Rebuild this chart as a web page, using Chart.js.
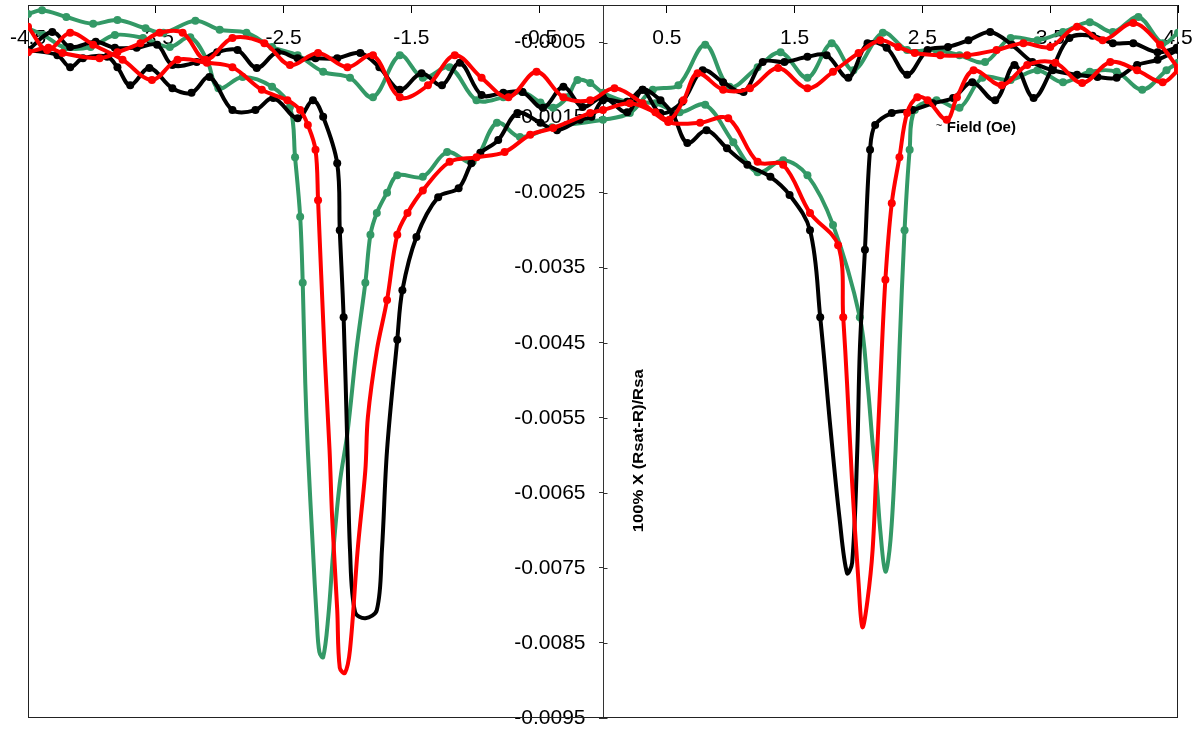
<!DOCTYPE html>
<html>
<head>
<meta charset="utf-8">
<script src="https://cdn.jsdelivr.net/npm/chart.js@4.4.1/dist/chart.umd.min.js"></script>
<style>
  html, body { margin: 0; padding: 0; background: #fff; }
  #wrap { width: 1197px; height: 732px; }
</style>
</head>
<body>
<div id="wrap"><canvas id="chart" width="1197" height="732"></canvas></div>
<script>
const xTicks = [-4.5, -3.5, -2.5, -1.5, -0.5, 0.5, 1.5, 2.5, 3.5, 4.5];
const yTicks = [-0.0005, -0.0015, -0.0025, -0.0035, -0.0045, -0.0055, -0.0065, -0.0075, -0.0085, -0.0095];
const xTitle = 'Field (Oe)';
const yTitle = '100% X (Rsat-R)/Rsa';

// sweep with the dip on the positive side (field going up)
const greenUp = [
  [-4.50,-0.00012],[-4.39,-0.00007],[-4.20,-0.00016],[-3.99,-0.00025],[-3.80,-0.00020],[-3.58,-0.00031],
  [-3.44,-0.00037],[-3.19,-0.00021],[-3.00,-0.00033],[-2.79,-0.00037],[-2.59,-0.00056],[-2.39,-0.00067],
  [-2.19,-0.00089],[-1.98,-0.00097],[-1.80,-0.00123],[-1.59,-0.00067],[-1.41,-0.00097],[-1.20,-0.00083],
  [-0.99,-0.00127],[-0.78,-0.00123],[-0.63,-0.00116],[-0.49,-0.00130],[-0.39,-0.00137],[-0.28,-0.00123],
  [-0.20,-0.00100],[-0.10,-0.00104],[0.00,-0.00117],[0.19,-0.00129],[0.41,-0.00131],[0.60,-0.00143],
  [0.80,-0.00133],[1.02,-0.00183],[1.21,-0.00223],[1.41,-0.00207],[1.60,-0.00227],[1.80,-0.00293],
  [2.01,-0.00416],[2.07,-0.00504],[2.11,-0.00584],[2.14,-0.00633],[2.17,-0.00700],[2.21,-0.00755],
  [2.25,-0.00713],[2.29,-0.00593],[2.32,-0.00460],[2.36,-0.00300],[2.40,-0.00193],[2.44,-0.00140],
  [2.61,-0.00127],[2.79,-0.00137],[2.97,-0.00097],[3.19,-0.00100],[3.40,-0.00087],[3.60,-0.00103],
  [3.81,-0.00089],[4.02,-0.00089],[4.22,-0.00113],[4.41,-0.00087],[4.50,-0.00077]
];
const redUp = [
  [-4.50,-0.00063],[-4.34,-0.00057],[-4.23,-0.00064],[-3.94,-0.00071],[-3.80,-0.00063],[-3.62,-0.00051],
  [-3.47,-0.00037],[-3.29,-0.00037],[-3.11,-0.00073],[-2.90,-0.00044],[-2.65,-0.00051],[-2.45,-0.00080],
  [-2.23,-0.00064],[-2.00,-0.00083],[-1.80,-0.00067],[-1.59,-0.00123],[-1.37,-0.00107],[-1.16,-0.00067],
  [-0.95,-0.00097],[-0.74,-0.00123],[-0.52,-0.00089],[-0.31,-0.00123],[-0.10,-0.00127],[0.09,-0.00111],
  [0.31,-0.00131],[0.51,-0.00156],[0.76,-0.00157],[0.98,-0.00151],[1.21,-0.00209],[1.41,-0.00213],
  [1.62,-0.00277],[1.84,-0.00320],[1.88,-0.00416],[1.91,-0.00504],[1.95,-0.00637],[2.00,-0.00770],
  [2.03,-0.00829],[2.07,-0.00793],[2.11,-0.00726],[2.14,-0.00616],[2.17,-0.00504],[2.21,-0.00366],
  [2.26,-0.00264],[2.32,-0.00203],[2.38,-0.00144],[2.46,-0.00123],[2.54,-0.00127],[2.69,-0.00153],
  [2.77,-0.00123],[2.90,-0.00087],[3.12,-0.00107],[3.32,-0.00080],[3.54,-0.00077],[3.75,-0.00104],
  [3.97,-0.00076],[4.18,-0.00087],[4.38,-0.00103],[4.50,-0.00087]
];
const blackUp = [
  [-4.50,-0.00060],[-4.31,-0.00036],[-4.17,-0.00056],[-3.97,-0.00049],[-3.82,-0.00057],[-3.65,-0.00057],
  [-3.49,-0.00053],[-3.37,-0.00080],[-3.18,-0.00076],[-3.02,-0.00063],[-2.86,-0.00060],[-2.71,-0.00084],
  [-2.55,-0.00063],[-2.39,-0.00071],[-2.25,-0.00071],[-2.08,-0.00071],[-1.90,-0.00064],[-1.75,-0.00083],
  [-1.59,-0.00113],[-1.42,-0.00091],[-1.26,-0.00107],[-1.12,-0.00077],[-0.95,-0.00120],[-0.78,-0.00117],
  [-0.63,-0.00116],[-0.47,-0.00137],[-0.31,-0.00109],[-0.16,-0.00136],[0.00,-0.00123],[0.19,-0.00143],
  [0.31,-0.00113],[0.45,-0.00127],[0.55,-0.00147],[0.66,-0.00184],[0.81,-0.00167],[0.97,-0.00191],
  [1.13,-0.00213],[1.31,-0.00229],[1.46,-0.00253],[1.62,-0.00300],[1.70,-0.00416],[1.78,-0.00564],
  [1.85,-0.00682],[1.91,-0.00757],[1.95,-0.00743],[1.99,-0.00593],[2.01,-0.00460],[2.05,-0.00326],
  [2.09,-0.00193],[2.13,-0.00160],[2.26,-0.00144],[2.42,-0.00140],[2.58,-0.00131],[2.74,-0.00124],
  [2.89,-0.00103],[3.07,-0.00127],[3.22,-0.00080],[3.37,-0.00124],[3.52,-0.00083],[3.65,-0.00044],
  [3.83,-0.00041],[3.99,-0.00051],[4.15,-0.00051],[4.34,-0.00063],[4.49,-0.00057]
];

// sweep with the dip on the negative side (field going down)
const greenDown = [
  [-4.50,-0.00031],[-4.38,-0.00040],[-4.21,-0.00057],[-4.01,-0.00056],[-3.82,-0.00040],[-3.60,-0.00044],
  [-3.39,-0.00056],[-3.23,-0.00043],[-3.10,-0.00073],[-3.01,-0.00111],[-2.82,-0.00096],[-2.59,-0.00109],
  [-2.45,-0.00136],[-2.41,-0.00203],[-2.37,-0.00282],[-2.35,-0.00370],[-2.33,-0.00504],[-2.31,-0.00593],
  [-2.27,-0.00726],[-2.24,-0.00819],[-2.22,-0.00862],[-2.19,-0.00869],[-2.15,-0.00815],[-2.11,-0.00726],
  [-2.06,-0.00637],[-2.00,-0.00570],[-1.93,-0.00460],[-1.86,-0.00370],[-1.82,-0.00306],[-1.77,-0.00277],
  [-1.69,-0.00250],[-1.61,-0.00227],[-1.41,-0.00229],[-1.22,-0.00196],[-1.02,-0.00209],[-0.83,-0.00157],
  [-0.65,-0.00176],[-0.40,-0.00163],[0.00,-0.00153],[0.21,-0.00144],[0.39,-0.00113],[0.59,-0.00107],
  [0.80,-0.00053],[0.99,-0.00109],[1.21,-0.00083],[1.39,-0.00063],[1.60,-0.00097],[1.79,-0.00051],
  [1.96,-0.00087],[2.19,-0.00037],[2.38,-0.00060],[2.61,-0.00060],[2.79,-0.00067],[2.99,-0.00076],
  [3.19,-0.00044],[3.40,-0.00047],[3.60,-0.00036],[3.81,-0.00023],[3.99,-0.00036],[4.19,-0.00016],
  [4.38,-0.00051],[4.50,-0.00037]
];
const redDown = [
  [-4.50,-0.00029],[-4.35,-0.00060],[-4.17,-0.00037],[-3.99,-0.00053],[-3.76,-0.00073],[-3.53,-0.00100],
  [-3.33,-0.00073],[-3.10,-0.00077],[-2.90,-0.00083],[-2.67,-0.00113],[-2.47,-0.00127],[-2.37,-0.00140],
  [-2.31,-0.00160],[-2.25,-0.00193],[-2.23,-0.00260],[-2.18,-0.00460],[-2.14,-0.00593],[-2.12,-0.00682],
  [-2.08,-0.00806],[-2.06,-0.00883],[-2.02,-0.00890],[-1.98,-0.00859],[-1.92,-0.00726],[-1.86,-0.00620],
  [-1.84,-0.00549],[-1.77,-0.00460],[-1.69,-0.00393],[-1.61,-0.00306],[-1.53,-0.00277],[-1.41,-0.00247],
  [-1.20,-0.00209],[-0.99,-0.00203],[-0.77,-0.00196],[-0.57,-0.00173],[-0.39,-0.00164],[-0.10,-0.00144],
  [0.00,-0.00140],[0.21,-0.00131],[0.41,-0.00143],[0.52,-0.00153],[0.63,-0.00127],[0.74,-0.00091],
  [0.94,-0.00113],[1.15,-0.00111],[1.37,-0.00084],[1.60,-0.00111],[1.80,-0.00089],[2.00,-0.00064],
  [2.17,-0.00047],[2.31,-0.00056],[2.44,-0.00064],[2.64,-0.00067],[2.85,-0.00067],[3.08,-0.00060],
  [3.29,-0.00051],[3.50,-0.00056],[3.71,-0.00029],[3.91,-0.00047],[4.15,-0.00024],[4.36,-0.00053],
  [4.50,-0.00084]
];
const blackDown = [
  [-4.50,-0.00060],[-4.27,-0.00067],[-4.17,-0.00083],[-4.07,-0.00071],[-3.88,-0.00069],[-3.80,-0.00083],
  [-3.70,-0.00107],[-3.55,-0.00084],[-3.37,-0.00111],[-3.22,-0.00117],[-3.08,-0.00096],[-2.90,-0.00140],
  [-2.72,-0.00140],[-2.58,-0.00124],[-2.39,-0.00151],[-2.27,-0.00127],[-2.19,-0.00149],[-2.08,-0.00211],
  [-2.06,-0.00300],[-2.03,-0.00416],[-2.00,-0.00593],[-1.98,-0.00726],[-1.94,-0.00809],[-1.86,-0.00817],
  [-1.77,-0.00806],[-1.73,-0.00726],[-1.69,-0.00593],[-1.61,-0.00446],[-1.57,-0.00380],[-1.46,-0.00309],
  [-1.29,-0.00256],[-1.13,-0.00244],[-1.03,-0.00211],[-0.96,-0.00197],[-0.82,-0.00180],[-0.67,-0.00144],
  [-0.49,-0.00157],[-0.36,-0.00167],[-0.18,-0.00153],[-0.09,-0.00149],[0.00,-0.00127],[0.19,-0.00129],
  [0.31,-0.00113],[0.45,-0.00144],[0.62,-0.00129],[0.78,-0.00087],[0.94,-0.00103],[1.10,-0.00116],
  [1.25,-0.00076],[1.42,-0.00076],[1.60,-0.00069],[1.75,-0.00067],[1.92,-0.00097],[2.07,-0.00051],
  [2.22,-0.00057],[2.38,-0.00093],[2.54,-0.00060],[2.70,-0.00056],[2.86,-0.00047],[3.03,-0.00036],
  [3.20,-0.00053],[3.36,-0.00076],[3.52,-0.00087],[3.71,-0.00093],[3.87,-0.00096],[4.02,-0.00097],
  [4.18,-0.00080],[4.34,-0.00073],[4.50,-0.00060]
];

const GREEN = '#339966';
const RED = '#ff0000';
const BLACK = '#000000';
const FONT = "'Liberation Sans', Arial, Helvetica, sans-serif";

let toPoints = function(rows) {
    return rows.map(r => ({x: r[0], y: r[1]}));
};

let series = function(rows, color) {
    return {
        data: toPoints(rows),
        showLine: true,
        borderColor: color,
        backgroundColor: color,
        borderWidth: 4,
        tension: 0.35,
        pointBorderWidth: 0,
        // markers sit on the measured points, not down in the steep part of the dips
        pointRadius: (c) => (c.raw && c.raw.y < -0.0045 ? 0 : 4),
    };
};

// axes sit inside the plot, so they must not take any room in the layout
let noRoom = function(s) {
    if (s.isHorizontal()) {
        s.height = 0;
    } else {
        s.width = 0;
    }
    s.paddingLeft = s.paddingRight = s.paddingTop = s.paddingBottom = 0;
};

// box round the plot, the ticks on the right of the y axis, and the two axis titles
const decorPlugin = {
    id: 'decor',
    beforeDatasetsDraw(chart) {
        const {ctx, chartArea: a, scales} = chart;
        ctx.save();
        ctx.lineWidth = 1;
        ctx.strokeStyle = '#222';
        ctx.strokeRect(a.left + 0.5, a.top + 0.5, a.width - 1, a.height - 1);

        const x0 = Math.round(scales.x.getPixelForValue(0)) + 0.5;
        ctx.strokeStyle = '#333';
        ctx.beginPath();
        yTicks.forEach(v => {
            const y = Math.round(scales.y.getPixelForValue(v)) + 0.5;
            ctx.moveTo(x0, y);
            ctx.lineTo(x0 + 4, y);
        });
        ctx.stroke();

        ctx.fillStyle = '#000';
        // y title, rotated and stretched the way the original renders it
        ctx.save();
        ctx.translate(scales.x.getPixelForValue(0.28), scales.y.getPixelForValue(-0.00594));
        ctx.rotate(-Math.PI / 2);
        ctx.font = 'bold 14px ' + FONT;
        const w = ctx.measureText(yTitle).width;
        ctx.scale(163 / w, 1);
        ctx.textAlign = 'center';
        ctx.textBaseline = 'middle';
        ctx.fillText(yTitle, 0, 0);
        ctx.restore();

        // x title
        const fx = scales.x.getPixelForValue(2.69);
        const fy = scales.y.getPixelForValue(-0.00164);
        ctx.textBaseline = 'middle';
        ctx.textAlign = 'left';
        ctx.font = '11px ' + FONT;
        ctx.fillText('~', fx - 11, fy - 2);
        ctx.font = 'bold 15px ' + FONT;
        ctx.fillText(xTitle, fx, fy);
        ctx.restore();
    }
};

new Chart(document.getElementById('chart').getContext('2d'), {
    type: 'scatter',
    data: {
        datasets: [
            series(redDown, RED),
            series(redUp, RED),
            series(blackDown, BLACK),
            series(blackUp, BLACK),
            series(greenDown, GREEN),
            series(greenUp, GREEN),
        ]
    },
    options: {
        responsive: false,
        animation: false,
        layout: {
            padding: {left: 28, top: 5, right: 19, bottom: 14}
        },
        plugins: {
            legend: {display: false},
            tooltip: {enabled: false},
        },
        scales: {
            x: {
                type: 'linear',
                min: -4.5,
                max: 4.5,
                position: {y: 0},
                afterBuildTicks: (s) => { s.ticks = xTicks.map(v => ({value: v})); },
                afterFit: noRoom,
                grid: {drawOnChartArea: false, drawTicks: true, tickLength: 7, color: '#000'},
                border: {display: true, color: '#000'},
                ticks: {
                    autoSkip: false,
                    maxRotation: 0,
                    padding: 14,
                    color: '#000',
                    font: {family: FONT, size: 21},
                    callback: (v) => v.toFixed(1),
                },
            },
            y: {
                type: 'linear',
                min: -0.0095,
                max: 0,
                position: {x: 0},
                afterBuildTicks: (s) => { s.ticks = yTicks.map(v => ({value: v})); },
                afterFit: noRoom,
                grid: {drawOnChartArea: false, drawTicks: true, tickLength: 4, color: '#333'},
                border: {display: true, color: '#333'},
                ticks: {
                    autoSkip: false,
                    color: '#000',
                    font: {family: FONT, size: 21},
                    // labels of an axis placed at x = 0 get no padding, so keep a gap after the text
                    callback: (v) => v.toFixed(4) + '   ',
                },
            },
        }
    },
    plugins: [decorPlugin]
});
</script>
</body>
</html>
